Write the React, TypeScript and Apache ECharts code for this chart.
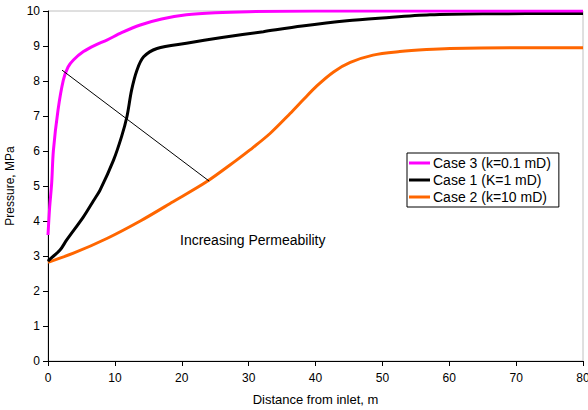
import React, { useEffect, useRef } from "react";
import * as echarts from "echarts";

const xCase3 = [0, 0.25, 0.55, 0.8, 1.5, 2.3, 3, 3.8, 5.3, 7, 8.8, 11, 13.8, 17, 20.7, 25, 30, 40, 60, 80];
const yCase3 = [3.6, 4.4, 5.08, 6.0, 7.17, 8.03, 8.4, 8.6, 8.84, 9.02, 9.17, 9.38, 9.6, 9.77, 9.89, 9.95, 9.98, 10, 10, 10];

const xCase1 = [0, 0.3, 1.8, 2.8, 5.3, 6.8, 7.8, 9.8, 11, 11.8, 12.5, 13.3, 14.3, 16.3, 20.7, 26, 32.2, 38, 44.7, 50, 57.1, 65, 80];
const yCase1 = [2.85, 2.91, 3.17, 3.46, 4.12, 4.58, 4.89, 5.74, 6.41, 6.98, 7.74, 8.31, 8.69, 8.93, 9.08, 9.24, 9.41, 9.57, 9.72, 9.8, 9.89, 9.92, 9.93];

const xCase2 = [0, 3.8, 8.8, 13.8, 18.7, 23.7, 28.2, 30.2, 33.2, 36.2, 38.2, 40.2, 42.7, 45.2, 48.6, 52.6, 56.6, 60.1, 70, 80];
const yCase2 = [2.82, 3.08, 3.5, 4.0, 4.55, 5.12, 5.74, 6.03, 6.5, 7.07, 7.47, 7.86, 8.26, 8.53, 8.74, 8.84, 8.9, 8.93, 8.95, 8.95];

const seriesNames = ["Case 3 (k=0.1 mD)", "Case 1 (K=1 mD)", "Case 2 (k=10 mD)"];
const seriesColors = ["#FF00FF", "#000000", "#FF6600"];

const arrowStart = [2.1, 8.31];
const arrowEnd = [24.1, 5.14];
const annotationText = "Increasing Permeability";

const FONT = '"Liberation Sans", Arial, sans-serif';

function pairs(xs: number[], ys: number[]) {
  return xs.map((x, i) => [x, ys[i]]);
}

export default function App() {
  const ref = useRef<HTMLDivElement>(null);
  useEffect(() => {
    if (!ref.current) return;
    const chart = echarts.init(ref.current, undefined, { renderer: "svg" });
    const datasets = [pairs(xCase3, yCase3), pairs(xCase1, yCase1), pairs(xCase2, yCase2)];
    chart.setOption({
      animation: false,
      backgroundColor: "#ffffff",
      textStyle: { fontFamily: FONT },
      grid: {
        left: 48,
        top: 11,
        right: 5,
        bottom: 49,
        show: true,
        borderColor: "#c0c0c0",
        borderWidth: 1,
        outerBoundsMode: "none",
        containLabel: false,
      },
      legend: {
        orient: "vertical",
        left: 407,
        top: 153,
        padding: [3, 8, 3, 2],
        itemGap: 3,
        itemWidth: 21,
        itemHeight: 3,
        icon: "rect",
        borderColor: "#000000",
        borderWidth: 1,
        borderRadius: 0,
        backgroundColor: "#ffffff",
        textStyle: { fontFamily: FONT, fontSize: 14, color: "#000", padding: [0, 0, 0, -2] },
        data: seriesNames,
      },
      xAxis: {
        type: "value",
        min: 0,
        max: 80,
        interval: 10,
        name: "Distance from inlet, m",
        nameLocation: "middle",
        nameGap: 32,
        nameTextStyle: { fontFamily: FONT, fontSize: 13, color: "#000" },
        axisLine: { show: true, lineStyle: { color: "#000", width: 1 } },
        axisTick: { show: true, length: 5, lineStyle: { color: "#000" } },
        axisLabel: { fontFamily: FONT, fontSize: 12, color: "#000", margin: 11, showMaxLabel: true },
        splitLine: { show: false },
      },
      yAxis: {
        type: "value",
        min: 0,
        max: 10,
        interval: 1,
        name: "Pressure, MPa",
        nameLocation: "middle",
        nameGap: 26,
        nameTextStyle: { fontFamily: FONT, fontSize: 12, color: "#000" },
        axisLine: { show: true, lineStyle: { color: "#000", width: 1 } },
        axisTick: { show: true, length: 5, lineStyle: { color: "#000" } },
        axisLabel: { fontFamily: FONT, fontSize: 12, color: "#000", margin: 8 },
        splitLine: { show: false },
      },
      series: seriesNames.map((name, i) => ({
        name,
        type: "line",
        data: datasets[i],
        smooth: 0.3,
        showSymbol: false,
        symbol: "none",
        z: 3 - i,
        lineStyle: { color: seriesColors[i], width: 3 },
        itemStyle: { color: seriesColors[i] },
        markLine:
          i === 2
            ? {
                silent: true,
                symbol: ["none", "arrow"],
                symbolSize: [0, 7],
                label: { show: false },
                lineStyle: { color: "#000", width: 1, type: "solid" },
                data: [[{ coord: arrowStart }, { coord: arrowEnd }]],
              }
            : undefined,
      })),
      graphic: [
        {
          type: "text",
          left: 180,
          top: 233,
          style: { text: annotationText, font: `14px ${FONT}`, fill: "#000" },
        },
      ],
    });
    return () => chart.dispose();
  }, []);
  return (
    <div
      ref={ref}
      style={{ position: "absolute", left: 0, top: 0, width: 588, height: 410 }}
    />
  );
}
